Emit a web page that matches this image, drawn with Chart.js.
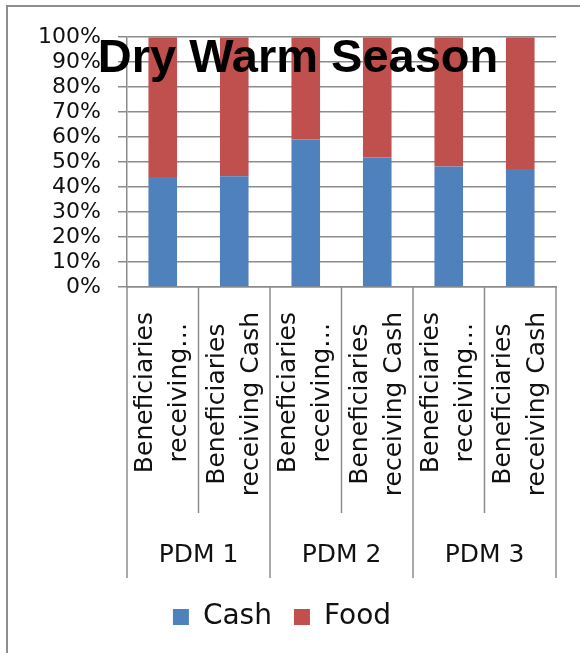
<!DOCTYPE html>
<html>
<head>
<meta charset="utf-8">
<script src="https://cdn.jsdelivr.net/npm/chart.js@4"></script>
<style>
html,body{margin:0;padding:0;background:#fff;overflow:hidden;width:580px;height:653px}
#ftop{position:absolute;left:6px;top:5px;width:574px;height:2px;background:#8e8e8e}
#fleft{position:absolute;left:6px;top:5px;width:2px;height:648px;background:#8e8e8e}
#c{position:absolute;left:8px;top:7px}
</style>
</head>
<body>
<div id="ftop"></div><div id="fleft"></div>
<canvas id="c" width="584" height="646"></canvas>
<script>
const chartTitle = "Dry Warm Season";
const categories = [
  ["Beneficiaries", "receiving…"],
  ["Beneficiaries", "receiving Cash"],
  ["Beneficiaries", "receiving…"],
  ["Beneficiaries", "receiving Cash"],
  ["Beneficiaries", "receiving…"],
  ["Beneficiaries", "receiving Cash"]
];
const groups = ["PDM 1", "PDM 2", "PDM 3"];
const seriesNames = ["Cash", "Food"];
const cash = [44.0, 44.3, 59.0, 51.8, 48.2, 47.2];
const food = [56.0, 55.7, 41.0, 48.2, 51.8, 52.8];

const GRID = '#8c8c8c';
const TEXT = '#111111';
const FONT = 'DejaVu Sans';

const overlayTitle = {
  id: 'overlayTitle',
  afterDatasetsDraw(chart) {
    const ctx = chart.ctx;
    ctx.save();
    ctx.font = 'bold 47px "Liberation Sans"';
    ctx.fillStyle = '#000';
    ctx.textAlign = 'center';
    ctx.textBaseline = 'alphabetic';
    ctx.fillText(chartTitle, chart.width / 2 - 2, chart.chartArea.top + 35);
    ctx.restore();
  }
};

const multiLevelX = {
  id: 'multiLevelX',
  afterDraw(chart) {
    const ctx = chart.ctx;
    const xs = chart.scales.x;
    const ca = chart.chartArea;
    const n = categories.length;
    const base = ca.bottom;
    ctx.save();
    ctx.strokeStyle = GRID;
    ctx.lineWidth = 1.5;
    for (let i = 0; i <= n; i++) {
      let b;
      if (i === 0) b = ca.left;
      else if (i === n) b = ca.right;
      else b = (xs.getPixelForValue(i - 1) + xs.getPixelForValue(i)) / 2;
      const len = (i % 2 === 0) ? 291 : 226;
      ctx.beginPath();
      ctx.moveTo(b, base);
      ctx.lineTo(b, base + len);
      ctx.stroke();
    }
    ctx.fillStyle = TEXT;
    ctx.font = '25px "' + FONT + '"';
    ctx.textBaseline = 'middle';
    ctx.textAlign = 'center';
    const pitch = 34;
    categories.forEach((lines, i) => {
      const cx = xs.getPixelForValue(i);
      const maxW = Math.max(...lines.map(l => ctx.measureText(l).width));
      ctx.save();
      ctx.translate(cx, base + 25);
      ctx.rotate(-Math.PI / 2);
      lines.forEach((l, k) => {
        const off = (k - (lines.length - 1) / 2) * pitch;
        ctx.fillText(l, -maxW / 2, off);
      });
      ctx.restore();
    });
    groups.forEach((g, gi) => {
      const a = xs.getPixelForValue(gi * 2);
      const b = xs.getPixelForValue(gi * 2 + 1);
      ctx.fillText(g, (a + b) / 2, base + 268);
    });
    ctx.restore();
  }
};

new Chart(document.getElementById('c'), {
  type: 'bar',
  data: {
    labels: categories,
    datasets: [
      { label: seriesNames[0], data: cash, backgroundColor: '#4F81BD' },
      { label: seriesNames[1], data: food, backgroundColor: '#C0504D' }
    ]
  },
  options: {
    responsive: false,
    animation: false,
    devicePixelRatio: 1,
    layout: { padding: { top: 29, right: 36, bottom: 12, left: 0 } },
    datasets: { bar: { categoryPercentage: 1, barPercentage: 0.4 } },
    scales: {
      x: {
        stacked: true,
        grid: { display: false },
        border: { display: true, color: GRID, width: 1.5 },
        ticks: { display: false },
        afterFit(scale) { scale.height = 294; }
      },
      y: {
        stacked: true,
        min: 0, max: 100,
        grid: { color: GRID, lineWidth: 1.5, tickLength: 9, drawTicks: true },
        border: { display: true, color: GRID, width: 1.5 },
        ticks: {
          stepSize: 10, padding: 17, color: TEXT, autoSkip: false,
          font: { family: FONT, size: 22 },
          callback: v => v + '%'
        },
        afterFit(scale) { scale.width = 119; }
      }
    },
    plugins: {
      title: { display: false },
      tooltip: { enabled: false },
      legend: {
        position: 'bottom',
        labels: {
          boxWidth: 16, boxHeight: 16, padding: 22, color: TEXT,
          font: { family: FONT, size: 28 }
        }
      }
    }
  },
  plugins: [overlayTitle, multiLevelX]
});
</script>
</body>
</html>
